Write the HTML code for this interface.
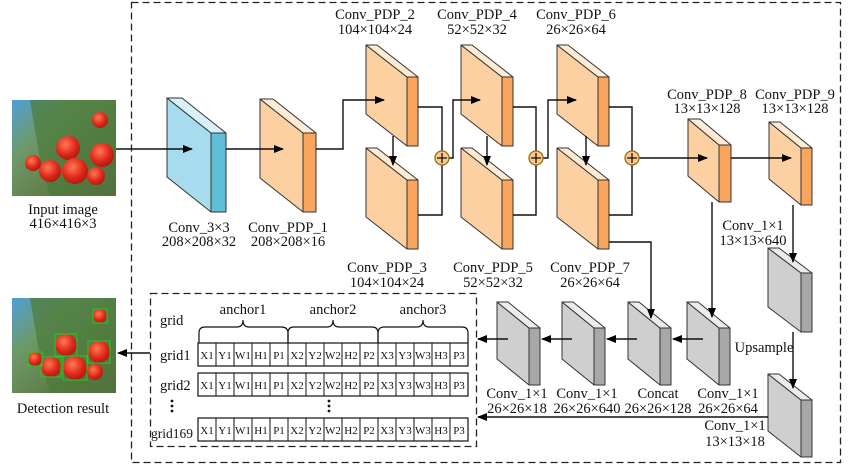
<!DOCTYPE html>
<html><head><meta charset="utf-8"><style>
html,body{margin:0;padding:0;background:#fff;width:850px;height:475px;overflow:hidden}
svg{display:block}
text{font-family:"Liberation Serif",serif;font-size:14.5px;fill:#111}
.c{font-size:11px}
</style></head><body>
<svg width="850" height="475" viewBox="0 0 850 475" xmlns="http://www.w3.org/2000/svg">
<defs>
<marker id="ar" markerWidth="10" markerHeight="8" refX="9" refY="4" orient="auto" markerUnits="userSpaceOnUse"><path d="M0,0 L10,4 L0,8 Z" fill="#000"/></marker>
<linearGradient id="sky" x1="0" y1="0" x2="1" y2="1"><stop offset="0" stop-color="#4f9fd8"/><stop offset="0.3" stop-color="#6d9a6a"/><stop offset="0.7" stop-color="#5f7a45"/><stop offset="1" stop-color="#6a5a48"/></linearGradient>
<radialGradient id="tom" cx="0.4" cy="0.35" r="0.7"><stop offset="0" stop-color="#ff7a55"/><stop offset="0.6" stop-color="#e0281a"/><stop offset="1" stop-color="#a81810"/></radialGradient>
</defs>

<rect x="131.5" y="2.5" width="709" height="460" fill="none" stroke="#222" stroke-width="1.3" stroke-dasharray="7,4"/>
<rect x="150.5" y="293.5" width="326" height="153" fill="none" stroke="#222" stroke-width="1.3" stroke-dasharray="7,4"/>

<g>
<rect x="12" y="100" width="104" height="96" fill="url(#sky)"/>
<path d="M30,100 L116,100 L116,196 L50,196 L40,160 L35,130Z" fill="#4c7a3a" opacity="0.7"/>
<circle cx="68" cy="148" r="12" fill="url(#tom)"/>
<circle cx="102" cy="155" r="12" fill="url(#tom)"/>
<circle cx="75" cy="171" r="13" fill="url(#tom)"/>
<circle cx="50" cy="171" r="11" fill="url(#tom)"/>
<circle cx="33" cy="163" r="8" fill="url(#tom)"/>
<circle cx="96" cy="176" r="9" fill="url(#tom)"/>
<circle cx="100" cy="120" r="8" fill="url(#tom)"/>
</g>
<text x="63" y="214" text-anchor="middle">Input image</text>
<text x="63" y="228" text-anchor="middle">416×416×3</text>

<g>
<rect x="12" y="298" width="104" height="95" fill="url(#sky)"/>
<path d="M30,298 L116,298 L116,393 L50,393 L40,358 L35,328Z" fill="#4c7a3a" opacity="0.7"/>
<circle cx="66" cy="345" r="11" fill="url(#tom)"/><rect x="55" y="334" width="22" height="22" fill="none" stroke="#2c2" stroke-width="1"/>
<circle cx="99" cy="352" r="11" fill="url(#tom)"/><rect x="88" y="341" width="22" height="22" fill="none" stroke="#2c2" stroke-width="1"/>
<circle cx="75" cy="368" r="12" fill="url(#tom)"/><rect x="63" y="356" width="24" height="24" fill="none" stroke="#2c2" stroke-width="1"/>
<circle cx="51" cy="367" r="10" fill="url(#tom)"/><rect x="41" y="357" width="20" height="20" fill="none" stroke="#2c2" stroke-width="1"/>
<circle cx="35" cy="359" r="7" fill="url(#tom)"/><rect x="28" y="352" width="14" height="14" fill="none" stroke="#2c2" stroke-width="1"/>
<circle cx="95" cy="372" r="8" fill="url(#tom)"/>
<circle cx="100" cy="316" r="7" fill="url(#tom)"/><rect x="93" y="309" width="14" height="14" fill="none" stroke="#2c2" stroke-width="1"/>
</g>
<text x="63" y="413" text-anchor="middle">Detection result</text>

<g stroke="#333" stroke-width="1" stroke-linejoin="round">
<polygon points="167,98 211,133 211,212 167,177" fill="#a6dced"/><polygon points="167,98 182,98 226,133 211,133" fill="#d8f1f8"/><polygon points="211,133 226,133 226,212 211,212" fill="#5fbfd9"/>
<polygon points="260,99 303,133 303,212 260,178" fill="#fdd0a2"/><polygon points="260,99 273,99 316,133 303,133" fill="#feebd6"/><polygon points="303,133 316,133 316,212 303,212" fill="#f9a55e"/>
<polygon points="366,45 407,77 407,146 366,114" fill="#fdd0a2"/><polygon points="366,45 377,45 418,77 407,77" fill="#feebd6"/><polygon points="407,77 418,77 418,146 407,146" fill="#f9a55e"/>
<polygon points="366,148 407,180 407,249 366,217" fill="#fdd0a2"/><polygon points="366,148 377,148 418,180 407,180" fill="#feebd6"/><polygon points="407,180 418,180 418,249 407,249" fill="#f9a55e"/>
<polygon points="461,45 502,77 502,146 461,114" fill="#fdd0a2"/><polygon points="461,45 472,45 513,77 502,77" fill="#feebd6"/><polygon points="502,77 513,77 513,146 502,146" fill="#f9a55e"/>
<polygon points="461,148 502,180 502,249 461,217" fill="#fdd0a2"/><polygon points="461,148 472,148 513,180 502,180" fill="#feebd6"/><polygon points="502,180 513,180 513,249 502,249" fill="#f9a55e"/>
<polygon points="557,45 598,77 598,146 557,114" fill="#fdd0a2"/><polygon points="557,45 568,45 609,77 598,77" fill="#feebd6"/><polygon points="598,77 609,77 609,146 598,146" fill="#f9a55e"/>
<polygon points="557,148 598,180 598,249 557,217" fill="#fdd0a2"/><polygon points="557,148 568,148 609,180 598,180" fill="#feebd6"/><polygon points="598,180 609,180 609,249 598,249" fill="#f9a55e"/>
<polygon points="688,119 719,145 719,202 688,176" fill="#fdd0a2"/><polygon points="688,119 700,119 731,145 719,145" fill="#feebd6"/><polygon points="719,145 731,145 731,202 719,202" fill="#f9a55e"/>
<polygon points="769,122 801,148 801,205 769,179" fill="#fdd0a2"/><polygon points="769,122 780,122 812,148 801,148" fill="#feebd6"/><polygon points="801,148 812,148 812,205 801,205" fill="#f9a55e"/>
<polygon points="768,248 801,273 801,332 768,307" fill="#cfcfcf"/><polygon points="768,248 779,248 812,273 801,273" fill="#ececec"/><polygon points="801,273 812,273 812,332 801,332" fill="#a8a8a8"/>
<polygon points="768,374 801,400 801,457 768,431" fill="#cfcfcf"/><polygon points="768,374 779,374 812,400 801,400" fill="#ececec"/><polygon points="801,400 812,400 812,457 801,457" fill="#a8a8a8"/>
<polygon points="687,302 719,328 719,385 687,359" fill="#cfcfcf"/><polygon points="687,302 698,302 730,328 719,328" fill="#ececec"/><polygon points="719,328 730,328 730,385 719,385" fill="#a8a8a8"/>
<polygon points="628,302 660,328 660,385 628,359" fill="#cfcfcf"/><polygon points="628,302 639,302 671,328 660,328" fill="#ececec"/><polygon points="660,328 671,328 671,385 660,385" fill="#a8a8a8"/>
<polygon points="562,302 594,328 594,385 562,359" fill="#cfcfcf"/><polygon points="562,302 573,302 605,328 594,328" fill="#ececec"/><polygon points="594,328 605,328 605,385 594,385" fill="#a8a8a8"/>
<polygon points="497,302 529,328 529,385 497,359" fill="#cfcfcf"/><polygon points="497,302 508,302 540,328 529,328" fill="#ececec"/><polygon points="529,328 540,328 540,385 529,385" fill="#a8a8a8"/>
</g>

<g stroke="#111" stroke-width="1.4" fill="none">
<path d="M116,149 H192" marker-end="url(#ar)"/>
<path d="M226,149 H283" marker-end="url(#ar)"/>
<path d="M316,149 H343 V100 H384" marker-end="url(#ar)"/>
<path d="M393,136 V165" marker-end="url(#ar)"/>
<path d="M418,107 H442 V151 M418,215 H442 V165"/>
<path d="M449,158 H453 V100 H480" marker-end="url(#ar)"/>
<path d="M487,136 V165" marker-end="url(#ar)"/>
<path d="M513,107 H536 V151 M513,215 H536 V165"/>
<path d="M543,158 H548 V100 H576" marker-end="url(#ar)"/>
<path d="M586,136 V165" marker-end="url(#ar)"/>
<path d="M609,107 H632 V151 M609,215 H632 V165"/>
<path d="M639,158 H707" marker-end="url(#ar)"/>
<path d="M731,158 H791" marker-end="url(#ar)"/>
<path d="M712,202 V317" marker-end="url(#ar)"/>
<path d="M793,205 V262" marker-end="url(#ar)"/>
<path d="M793,332 V388" marker-end="url(#ar)"/>
<path d="M609,242 H651 V318" marker-end="url(#ar)"/>
<path d="M703,339 H673" marker-end="url(#ar)"/>
<path d="M637,339 H607" marker-end="url(#ar)"/>
<path d="M572,339 H542" marker-end="url(#ar)"/>
<path d="M508,339 H478" marker-end="url(#ar)"/>
<path d="M768,417 H478" marker-end="url(#ar)"/>
<path d="M150,353 H118" marker-end="url(#ar)"/>
</g>
<g stroke="#9a6a10" stroke-width="1.3" fill="#fcc98e">
<circle cx="442" cy="158" r="7"/><circle cx="536" cy="158" r="7"/><circle cx="632" cy="158" r="7"/>
</g>
<g stroke="#111" stroke-width="1.3">
<path d="M437,158 H447 M442,153 V163"/><path d="M531,158 H541 M536,153 V163"/><path d="M627,158 H637 M632,153 V163"/>
</g>

<g text-anchor="middle">
<text x="199" y="232">Conv_3×3</text><text x="199" y="246">208×208×32</text>
<text x="288" y="232">Conv_PDP_1</text><text x="288" y="246">208×208×16</text>
<text x="375" y="19">Conv_PDP_2</text><text x="375" y="34">104×104×24</text>
<text x="477" y="19">Conv_PDP_4</text><text x="477" y="34">52×52×32</text>
<text x="576" y="19">Conv_PDP_6</text><text x="576" y="34">26×26×64</text>
<text x="387" y="272">Conv_PDP_3</text><text x="387" y="287">104×104×24</text>
<text x="493" y="272">Conv_PDP_5</text><text x="493" y="287">52×52×32</text>
<text x="590" y="272">Conv_PDP_7</text><text x="590" y="287">26×26×64</text>
<text x="707" y="99">Conv_PDP_8</text><text x="707" y="113">13×13×128</text>
<text x="795" y="99">Conv_PDP_9</text><text x="795" y="113">13×13×128</text>
<text x="753" y="230">Conv_1×1</text><text x="753" y="245">13×13×640</text>
<text x="764" y="352">Upsample</text>
<text x="517" y="398">Conv_1×1</text><text x="517" y="413">26×26×18</text>
<text x="587" y="398">Conv_1×1</text><text x="587" y="413">26×26×640</text>
<text x="658" y="398">Concat</text><text x="658" y="413">26×26×128</text>
<text x="728" y="398">Conv_1×1</text><text x="728" y="413">26×26×64</text>
<text x="735" y="430">Conv_1×1</text><text x="735" y="446">13×13×18</text>
<text x="243" y="314">anchor1</text><text x="333" y="314">anchor2</text><text x="423" y="314">anchor3</text>
</g>
<text x="160" y="325">grid</text>
<text x="160" y="360">grid1</text>
<text x="160" y="390">grid2</text>
<text x="151" y="438" style="font-size:13.5px">grid169</text>
<g fill="#111"><circle cx="172" cy="401" r="1.4"/><circle cx="172" cy="406" r="1.4"/><circle cx="172" cy="411" r="1.4"/>
<circle cx="329" cy="401" r="1.4"/><circle cx="329" cy="406" r="1.4"/><circle cx="329" cy="411" r="1.4"/></g>

<g stroke="#111" stroke-width="1.2" fill="none">
<path d="M199,343 V333 Q199,327 205,327 H237 Q243,327 243,320 Q243,327 249,327 H281 Q288,327 288,333 V343"/>
<path d="M288,343 V333 Q288,327 294,327 H327 Q333,327 333,320 Q333,327 339,327 H372 Q378,327 378,333 V343"/>
<path d="M378,343 V333 Q378,327 384,327 H417 Q423,327 423,320 Q423,327 429,327 H462 Q468,327 468,333 V343"/>
</g>

<rect x="198" y="343" width="270" height="23" fill="none" stroke="#111" stroke-width="1.2"/>
<rect x="198" y="373" width="270" height="23" fill="none" stroke="#111" stroke-width="1.2"/>
<rect x="198" y="418" width="270" height="23" fill="none" stroke="#111" stroke-width="1.2"/>
<g stroke="#111" stroke-width="1">
<path d="M216,343V366M234,343V366M252,343V366M270,343V366M288,343V366M306,343V366M324,343V366M342,343V366M360,343V366M378,343V366M396,343V366M414,343V366M432,343V366M450,343V366"/>
<path d="M216,373V396M234,373V396M252,373V396M270,373V396M288,373V396M306,373V396M324,373V396M342,373V396M360,373V396M378,373V396M396,373V396M414,373V396M432,373V396M450,373V396"/>
<path d="M216,418V441M234,418V441M252,418V441M270,418V441M288,418V441M306,418V441M324,418V441M342,418V441M360,418V441M378,418V441M396,418V441M414,418V441M432,418V441M450,418V441"/>
</g>
<g text-anchor="middle">
<text class="c" x="207" y="359">X1</text><text class="c" x="225" y="359">Y1</text><text class="c" x="243" y="359">W1</text><text class="c" x="261" y="359">H1</text><text class="c" x="279" y="359">P1</text><text class="c" x="297" y="359">X2</text><text class="c" x="315" y="359">Y2</text><text class="c" x="333" y="359">W2</text><text class="c" x="351" y="359">H2</text><text class="c" x="369" y="359">P2</text><text class="c" x="387" y="359">X3</text><text class="c" x="405" y="359">Y3</text><text class="c" x="423" y="359">W3</text><text class="c" x="441" y="359">H3</text><text class="c" x="459" y="359">P3</text>
<text class="c" x="207" y="389">X1</text><text class="c" x="225" y="389">Y1</text><text class="c" x="243" y="389">W1</text><text class="c" x="261" y="389">H1</text><text class="c" x="279" y="389">P1</text><text class="c" x="297" y="389">X2</text><text class="c" x="315" y="389">Y2</text><text class="c" x="333" y="389">W2</text><text class="c" x="351" y="389">H2</text><text class="c" x="369" y="389">P2</text><text class="c" x="387" y="389">X3</text><text class="c" x="405" y="389">Y3</text><text class="c" x="423" y="389">W3</text><text class="c" x="441" y="389">H3</text><text class="c" x="459" y="389">P3</text>
<text class="c" x="207" y="434">X1</text><text class="c" x="225" y="434">Y1</text><text class="c" x="243" y="434">W1</text><text class="c" x="261" y="434">H1</text><text class="c" x="279" y="434">P1</text><text class="c" x="297" y="434">X2</text><text class="c" x="315" y="434">Y2</text><text class="c" x="333" y="434">W2</text><text class="c" x="351" y="434">H2</text><text class="c" x="369" y="434">P2</text><text class="c" x="387" y="434">X3</text><text class="c" x="405" y="434">Y3</text><text class="c" x="423" y="434">W3</text><text class="c" x="441" y="434">H3</text><text class="c" x="459" y="434">P3</text>
</g>
</svg>
</body></html>
